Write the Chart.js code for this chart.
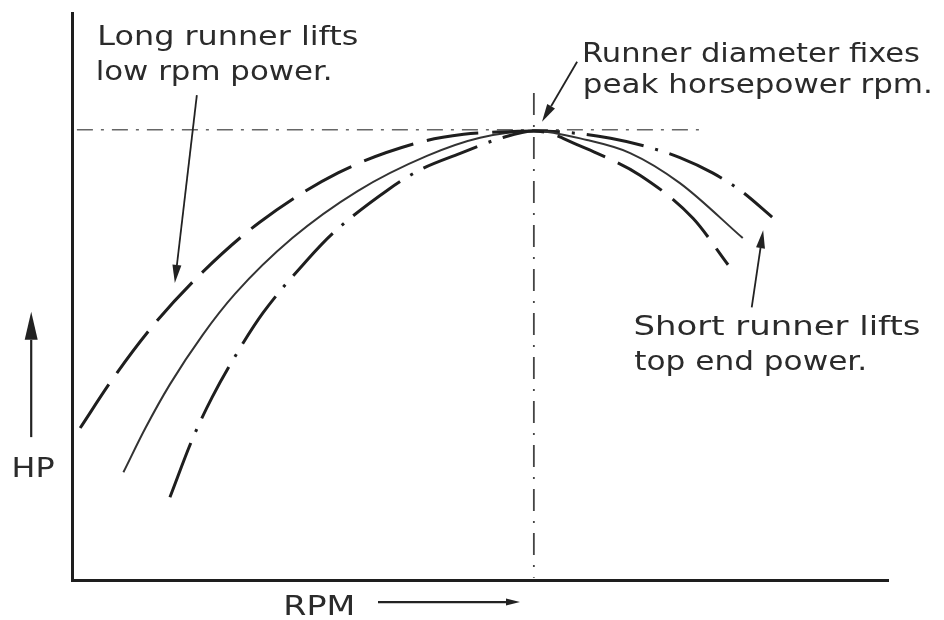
<!DOCTYPE html>
<html>
<head>
<meta charset="utf-8">
<title>Runner length vs HP curve</title>
<script src="https://cdn.jsdelivr.net/npm/chart.js@4.4.1/dist/chart.umd.min.js"></script>
<style>
    body { margin: 0; background: #fff; }
    #wrap { width: 944px; height: 620px; }
</style>
</head>
<body>
<div id="wrap"><canvas id="hpChart" width="944" height="620"></canvas></div>
<script>
// Schematic values (RPM and HP as % of axis length)
const longRunnerRpm = [1.0, 5.0, 10.0, 16.0, 23.0, 32.6, 42.6, 48.0, 52.1, 56.6, 59.0, 61.4, 64.3, 69.6, 76.1, 80.4];
const longRunnerHp  = [26.8, 35.5, 45.0, 54.3, 63.1, 71.8, 77.2, 78.6, 79.0, 79.2, 78.6, 77.1, 75.3, 71.4, 63.8, 55.6];

const baseRunnerRpm = [6.3, 9.0, 12.0, 16.0, 20.0, 27.0, 35.0, 43.5, 50.0, 56.6, 63.1, 68.4, 74.5, 82.2];
const baseRunnerHp  = [19.0, 26.8, 34.5, 43.2, 50.5, 60.3, 68.6, 74.8, 78.0, 79.2, 77.6, 75.3, 70.0, 60.3];

const shortRunnerRpm = [12.0, 14.8, 17.2, 20.3, 23.4, 28.8, 32.0, 38.7, 42.6, 47.5, 52.5, 56.6, 61.0, 66.0, 70.5, 74.5, 78.5, 82.0, 85.8];
const shortRunnerHp  = [14.6, 25.0, 32.3, 40.2, 47.1, 56.4, 61.2, 68.8, 72.3, 75.2, 77.9, 79.2, 78.9, 77.9, 76.4, 74.5, 71.8, 68.6, 64.0];

// Peak horsepower guide lines
const peakHpLineRpm = [0.6, 77.8];
const peakHpLineHp  = [79.4, 79.4];
const peakRpmLineRpm = [56.6, 56.6];
const peakRpmLineHp  = [85.9, 0.4];

function toPoints(xs, ys) {
    return xs.map((x, i) => ({ x: x, y: ys[i] }));
}

// Notes and arrows, placed in axis units (w = line width in px)
const notes = [
    { text: 'Long runner lifts', x: 3.1, y: 94.4, w: 261 },
    { text: 'low rpm power.', x: 2.9, y: 88.2, w: 237 },
    { text: 'Runner diameter fixes', x: 62.5, y: 91.4, w: 338 },
    { text: 'peak horsepower rpm.', x: 62.6, y: 85.9, w: 350 },
    { text: 'Short runner lifts', x: 68.8, y: 43.2, w: 287 },
    { text: 'top end power.', x: 68.9, y: 37.0, w: 233 },
    { text: 'HP', x: -7.4, y: 18.2, w: 43 },
    { text: 'RPM', x: 25.9, y: -6.2, w: 72 }
];

const arrows = [
    { from: [15.3, 85.5], to: [12.6, 52.4], head: 18, half: 4.5, width: 1.8 },
    { from: [61.9, 91.4], to: [57.6, 80.8], head: 18, half: 4.5, width: 1.8 },
    { from: [83.3, 48.1], to: [84.7, 61.7], head: 18, half: 4.5, width: 1.8 },
    { from: [-5.0, 25.2], to: [-5.0, 47.3], head: 28, half: 6.5, width: 2.2 },
    { from: [37.5, -3.9], to: [54.9, -3.9], head: 14, half: 3.5, width: 2.2 }
];

const notesPlugin = {
    id: 'notes',
    afterDatasetsDraw(chart) {
        const ctx = chart.ctx;
        const xs = chart.scales.x;
        const ys = chart.scales.y;
        ctx.save();
        ctx.fillStyle = '#2b2b2b';
        ctx.font = '26px "DejaVu Sans"';
        ctx.textBaseline = 'alphabetic';
        notes.forEach(n => {
            // stretch each line sideways to the lettering's width
            const plain = ctx.measureText(n.text).width;
            const sx = n.w / plain;
            ctx.save();
            ctx.translate(xs.getPixelForValue(n.x), ys.getPixelForValue(n.y));
            ctx.scale(sx, 1);
            ctx.fillText(n.text, 0, 0);
            ctx.restore();
        });

        ctx.strokeStyle = '#222';
        ctx.fillStyle = '#222';
        arrows.forEach(a => {
            const x1 = xs.getPixelForValue(a.from[0]), y1 = ys.getPixelForValue(a.from[1]);
            const x2 = xs.getPixelForValue(a.to[0]), y2 = ys.getPixelForValue(a.to[1]);
            const ang = Math.atan2(y2 - y1, x2 - x1);
            const bx = x2 - a.head * Math.cos(ang), by = y2 - a.head * Math.sin(ang);
            ctx.lineWidth = a.width;
            ctx.beginPath();
            ctx.moveTo(x1, y1);
            ctx.lineTo(bx, by);
            ctx.stroke();
            ctx.beginPath();
            ctx.moveTo(x2, y2);
            ctx.lineTo(bx + a.half * Math.sin(ang), by - a.half * Math.cos(ang));
            ctx.lineTo(bx - a.half * Math.sin(ang), by + a.half * Math.cos(ang));
            ctx.closePath();
            ctx.fill();
        });
        ctx.restore();
    }
};

document.addEventListener('DOMContentLoaded', function() {
    const ctx = document.getElementById('hpChart').getContext('2d');
    new Chart(ctx, {
        type: 'scatter',
        data: {
            datasets: [
                {
                    label: 'Long runner',
                    data: toPoints(longRunnerRpm, longRunnerHp),
                    showLine: true,
                    borderColor: '#1e1e1e',
                    borderWidth: 3,
                    borderDash: [52, 14],
                    pointRadius: 0,
                    cubicInterpolationMode: 'monotone'
                },
                {
                    label: 'Base runner',
                    data: toPoints(baseRunnerRpm, baseRunnerHp),
                    showLine: true,
                    borderColor: '#333',
                    borderWidth: 2,
                    pointRadius: 0,
                    cubicInterpolationMode: 'monotone'
                },
                {
                    label: 'Short runner',
                    data: toPoints(shortRunnerRpm, shortRunnerHp),
                    showLine: true,
                    borderColor: '#1e1e1e',
                    borderWidth: 3,
                    borderDash: [58, 12, 3, 12],
                    pointRadius: 0,
                    cubicInterpolationMode: 'monotone'
                },
                {
                    label: 'Peak HP',
                    data: toPoints(peakHpLineRpm, peakHpLineHp),
                    showLine: true,
                    borderColor: '#666',
                    borderWidth: 1.5,
                    borderDash: [16, 8, 3, 8],
                    pointRadius: 0
                },
                {
                    label: 'Peak RPM',
                    data: toPoints(peakRpmLineRpm, peakRpmLineHp),
                    showLine: true,
                    borderColor: '#444',
                    borderWidth: 1.8,
                    borderDash: [22, 10, 2, 10],
                    pointRadius: 0
                }
            ]
        },
        options: {
            responsive: false,
            animation: false,
            layout: {
                padding: { left: 72, right: 56, top: 13, bottom: 40 }
            },
            plugins: {
                legend: { display: false },
                tooltip: { enabled: false }
            },
            scales: {
                x: {
                    type: 'linear',
                    min: 0,
                    max: 100,
                    grid: { display: false, drawTicks: false },
                    ticks: { display: false },
                    border: { display: true, color: '#1e1e1e', width: 3 }
                },
                y: {
                    type: 'linear',
                    min: 0,
                    max: 100,
                    grid: { display: false, drawTicks: false },
                    ticks: { display: false },
                    border: { display: true, color: '#1e1e1e', width: 3 }
                }
            }
        },
        plugins: [notesPlugin]
    });
});
</script>
</body>
</html>
